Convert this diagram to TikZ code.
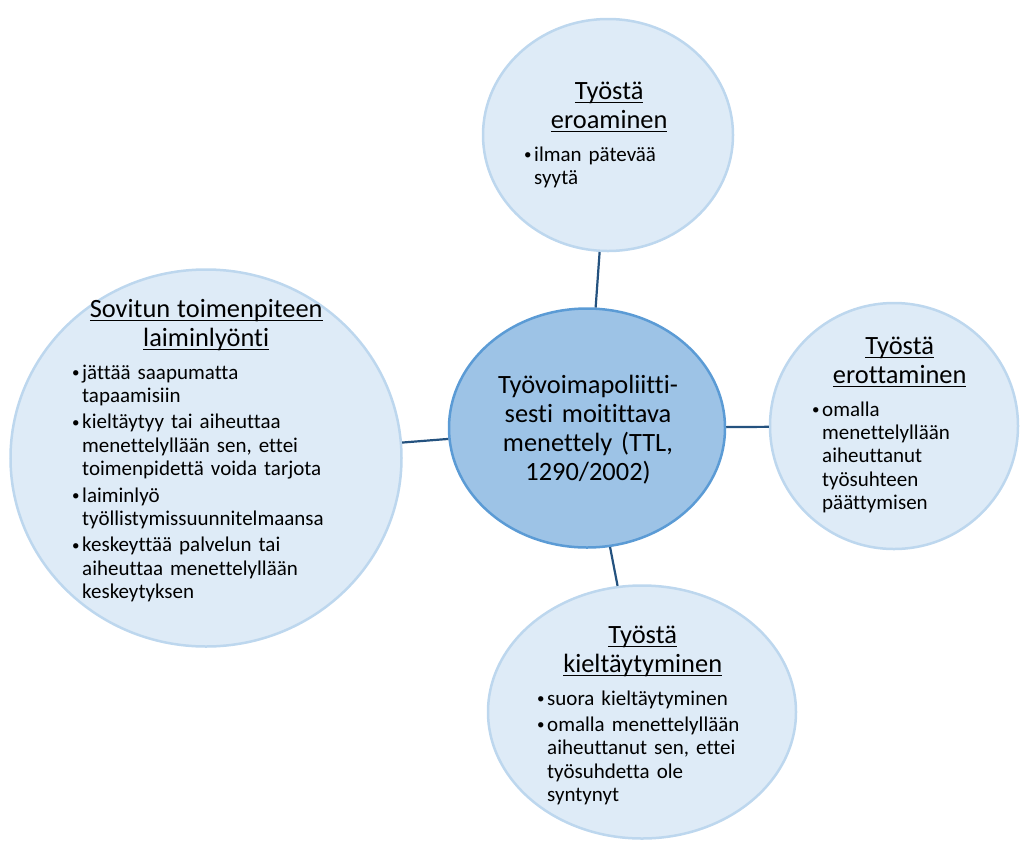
\documentclass[tikz,border=0pt]{standalone}
\usepackage{fontspec}
\setmainfont{Carlito}[Ligatures=NoCommon]
\usetikzlibrary{shapes.geometric,positioning}
\definecolor{kupla}{HTML}{DEEBF7}
\definecolor{kuplareuna}{HTML}{BDD7EE}
\definecolor{keski}{HTML}{9DC3E6}
\definecolor{keskireuna}{HTML}{5B9BD5}
\definecolor{viiva}{HTML}{24527F}
\newsavebox{\allebox}
\newcommand{\alle}[1]{\leavevmode\sbox{\allebox}{#1}\rlap{\rule[-3.6pt]{\wd\allebox}{1.1pt}}\usebox{\allebox}}
\newcommand{\otsikko}[2]{{\centering\fontsize{26.4}{29}\selectfont\alle{#1}\\\alle{#2}\par}\vspace{6.6pt}}
\newcommand{\pallo}{\raisebox{1.5pt}{\fontsize{15}{15}\selectfont\textbullet}}
\newcommand{\rivi}{\hfil\break}
\newcommand{\kohta}[1]{\par\vspace{3pt}\hangindent=10pt\hangafter=1\noindent\makebox[10pt][l]{\pallo}#1\par}
\tikzset{teksti/.style={text width=#1, inner sep=0pt, align=left, anchor=base west,
  font=\fontsize{21}{23.4}\selectfont}}

\begin{document}
\begin{tikzpicture}[x=1pt, y=-1pt]
   \useasboundingbox (0,0) rectangle (1020,844);
   \begin{scope}[every node/.style={ellipse,draw=kuplareuna,fill=kupla,line width=2.5pt,inner sep=0pt}]
    \node (v0) [fill=keski,draw=keskireuna,minimum width=276pt,minimum height=239pt] at (587,428) {};
    \node (v1) [minimum width=250pt,minimum height=232pt] at (608,135) {};
    \node (v2) [minimum width=248pt,minimum height=246pt] at (894,426) {};
    \node (v3) [minimum width=308pt,minimum height=253pt] at (642,712) {};
    \node (v4) [minimum width=391pt,minimum height=377pt] at (206,458) {};
   \end{scope}
   \begin{scope}[every edge/.style={draw=viiva,line width=2.2pt}]
    \draw  (v0) edge (v1);
    \draw  (v0) edge (v2);
    \draw  (v0) edge (v3);
    \draw  (v0) edge (v4);
   \end{scope}
   % tekstit
   \node (t0) [font=\fontsize{26.4}{29}\selectfont,text width=230pt,align=center,inner sep=0pt,anchor=base] at (588,393)
     {Työvoimapoliitti-\\sesti moitittava\\menettely (TTL,\\1290/2002)};
   \node (t1) [teksti=170pt] at (524,99)
     {\otsikko{Työstä}{eroaminen}\kohta{ilman pätevää\rivi syytä}};
   \node (t2) [teksti=175pt] at (812,354)
     {\otsikko{Työstä}{erottaminen}\kohta{omalla\rivi menettelyllään\rivi aiheuttanut\rivi työsuhteen\rivi päättymisen}};
   \node (t3) [teksti=211pt] at (537,643)
     {\otsikko{Työstä}{kieltäytyminen}\kohta{suora kieltäytyminen}\kohta{omalla menettelyllään\rivi aiheuttanut sen, ettei\rivi työsuhdetta ole\rivi syntynyt}};
   \node (t4) [teksti=268pt] at (72,317)
     {\otsikko{Sovitun toimenpiteen}{laiminlyönti}\kohta{jättää saapumatta\rivi tapaamisiin}\kohta{kieltäytyy tai aiheuttaa\rivi menettelyllään sen, ettei\rivi toimenpidettä voida tarjota}\kohta{laiminlyö\rivi työllistymissuunnitelmaansa}\kohta{keskeyttää palvelun tai\rivi aiheuttaa menettelyllään\rivi keskeytyksen}};
\end{tikzpicture}
\end{document}
